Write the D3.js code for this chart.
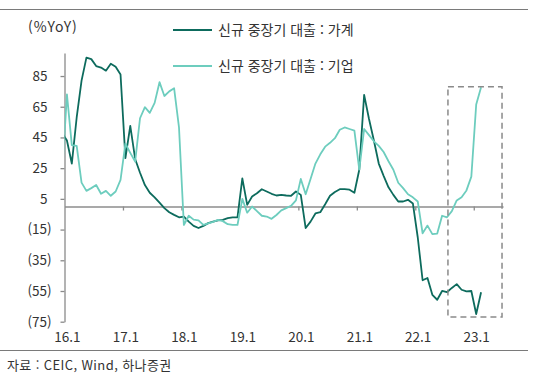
<!DOCTYPE html>
<html lang="ko">
<head>
  <meta charset="UTF-8">
  <title>신규 중장기 대출</title>
  <style>
    body { margin: 0; background: #fff; }
    svg text { font-family: "Noto Sans CJK KR", "Noto Sans", sans-serif; fill: #333; }
  </style>
</head>
<body>
  <script src="https://d3js.org/d3.v7.min.js"></script>
  <script>
    // month index 0 = 2016.01; series start one month earlier (2015.12) and run to 2023.02
    const firstMonth = -1;
    const household = [48, 43, 28, 58, 82, 97, 96, 91.5, 90.5, 88.5, 93, 91, 86,
      31.5, 52.5, 31, 22, 14, 9, 6, 2.5, -1, -3.7, -5.4, -7,
      -6.5, -9.8, -12.6, -14, -12.6, -10.8, -9.8, -9, -8.7, -7.6, -7, -7,
      18.4, 1.1, 6.5, 8.7, 11.3, 9.8, 8.3, 7.2, 7.6, 7.2, 7, 9.8,
      7.6, -14, -9.8, -4.5, -3.7, 1.5, 7, 9.5, 11.3, 11.3, 11, 9,
      24, 72.7, 57, 43, 28, 20, 12.5, 7.6, 3.3, 3.3, 4.4, 2,
      -20, -48, -46.5, -57.5, -60.7, -55, -55.8, -53, -50.5, -54.2, -55.3, -55,
      -70, -55.8];
    const corporate = [20, 73, 40, 39.5, 15.6, 10.2, 12, 14, 8.3, 10.2, 7, 9.8, 17.4,
      41, 35, 29.3, 57.5, 64.7, 61, 67.5, 81, 72, 75, 77, 51.5,
      -12, -6, -8.5, -9, -12, -11, -10, -8.7, -9.5, -11.5, -12, -12,
      5, -4, 0, -3, -6, -6.5, -8, -5.5, -2.5, -1, 0.5, 4,
      18, 8, 18, 28, 34, 39, 41.5, 44.5, 50, 51.5, 50.5, 49.5,
      24, 50.5, 46.5, 42.5, 39.5, 35.5, 29.5, 24, 15.5, 12, 8, 6,
      3.3, -17.4, -12.4, -18, -17.6, -6, -7, -3, 4, 6.1, 10.5, 19.5,
      66.5, 77.7];
    const seriesNames = ['신규 중장기 대출 : 가계', '신규 중장기 대출 : 기업'];
    const xTickLabels = ['16.1', '17.1', '18.1', '19.1', '20.1', '21.1', '22.1', '23.1'];
    const xTickMonths = [0, 12, 24, 36, 48, 60, 72, 84];
    const yTicks = [85, 65, 45, 25, 5, -15, -35, -55, -75];
    // highlighted period (month index / %YoY)
    const boxMonths = [78.2, 89.3];
    const boxValues = [78, -72];

    const width = 536;
    const height = 382;
    const colors = ['#0d6b5d', '#6dcdbe'];

    const svg = d3.select('body')
                  .append('svg')
                  .attr('width', width)
                  .attr('height', height);

    const x = d3.scaleLinear().domain([-0.5, 89.5]).range([64.5, 503]);
    const y = d3.scaleLinear().domain([-75, 100]).range([321.7, 53]);

    // frame lines
    svg.append('line').attr('x1', 0).attr('x2', 528).attr('y1', 9.5).attr('y2', 9.5)
       .attr('stroke', '#7a7a7a').attr('stroke-width', 1);
    svg.append('line').attr('x1', 0).attr('x2', 528).attr('y1', 350.5).attr('y2', 350.5)
       .attr('stroke', '#7a7a7a').attr('stroke-width', 1);

    // y axis
    const yAxis = svg.append('g')
      .attr('transform', 'translate(' + x(-0.5) + ',0)')
      .call(d3.axisLeft(y).tickValues(yTicks).tickSize(4).tickSizeOuter(0)
        .tickFormat(d => d < 0 ? '(' + Math.abs(d) + ')' : d));
    yAxis.select('.domain').attr('stroke', '#8a8a8a').attr('stroke-width', 1.3);
    yAxis.selectAll('.tick line').attr('stroke', '#8a8a8a').attr('stroke-width', 1.3);
    yAxis.selectAll('.tick text')
      .attr('x', d => d < 0 ? -13 : -17)
      .style('font-size', '13.5px')
      .attr('fill', '#333');

    // zero line with year ticks
    const zeroAxis = svg.append('g')
      .attr('transform', 'translate(0,' + y(0) + ')')
      .call(d3.axisBottom(x).tickValues(xTickMonths.slice(1).map(m => m - 0.5))
        .tickSize(4).tickSizeOuter(0).tickFormat(''));
    zeroAxis.select('.domain').attr('stroke', '#8c8c8c').attr('stroke-width', 1.6);
    zeroAxis.selectAll('.tick line').attr('stroke', '#8c8c8c').attr('stroke-width', 1.3);

    // x labels
    const xLabels = svg.append('g')
      .attr('transform', 'translate(0,329)')
      .call(d3.axisBottom(x).tickValues(xTickMonths).tickSize(0)
        .tickFormat((d, i) => xTickLabels[i]));
    xLabels.select('.domain').remove();
    xLabels.selectAll('.tick text').style('font-size', '13.5px').attr('fill', '#333');

    // lines
    svg.append('clipPath').attr('id', 'plot')
      .append('rect').attr('x', x(-0.5)).attr('y', 0).attr('width', x(89.5) - x(-0.5)).attr('height', height);

    const line = d3.line()
      .x((d, i) => x(firstMonth + i))
      .y(d => y(d));

    [household, corporate].forEach((s, k) => {
      svg.append('path')
        .datum(s)
        .attr('clip-path', 'url(#plot)')
        .attr('fill', 'none')
        .attr('stroke', colors[k])
        .attr('stroke-width', 1.8)
        .attr('stroke-linejoin', 'round')
        .attr('d', line);
    });

    // dashed highlight box
    svg.append('rect')
      .attr('x', x(boxMonths[0]))
      .attr('y', y(boxValues[0]))
      .attr('width', x(boxMonths[1]) - x(boxMonths[0]))
      .attr('height', y(boxValues[1]) - y(boxValues[0]))
      .attr('fill', 'none')
      .attr('stroke', '#8a8a8a')
      .attr('stroke-width', 1.5)
      .attr('stroke-dasharray', '6,4');

    // unit label
    svg.append('text').attr('x', 28).attr('y', 32).style('font-size', '14px')
      .style('letter-spacing', '0.9px').text('(%YoY)');

    // legend
    const legend = svg.append('g');
    seriesNames.forEach((name, k) => {
      const ly = 30 + k * 36;
      legend.append('line').attr('x1', 173).attr('x2', 212).attr('y1', ly).attr('y2', ly)
        .attr('stroke', colors[k]).attr('stroke-width', 1.8);
      legend.append('text').attr('x', 218).attr('y', ly + 5)
        .style('font-size', '14px').text(name);
    });

    // source
    svg.append('text').attr('x', 7).attr('y', 370).style('font-size', '13px')
      .style('letter-spacing', '0.4px')
      .text('자료 : CEIC, Wind, 하나증권');
  </script>
</body>
</html>
